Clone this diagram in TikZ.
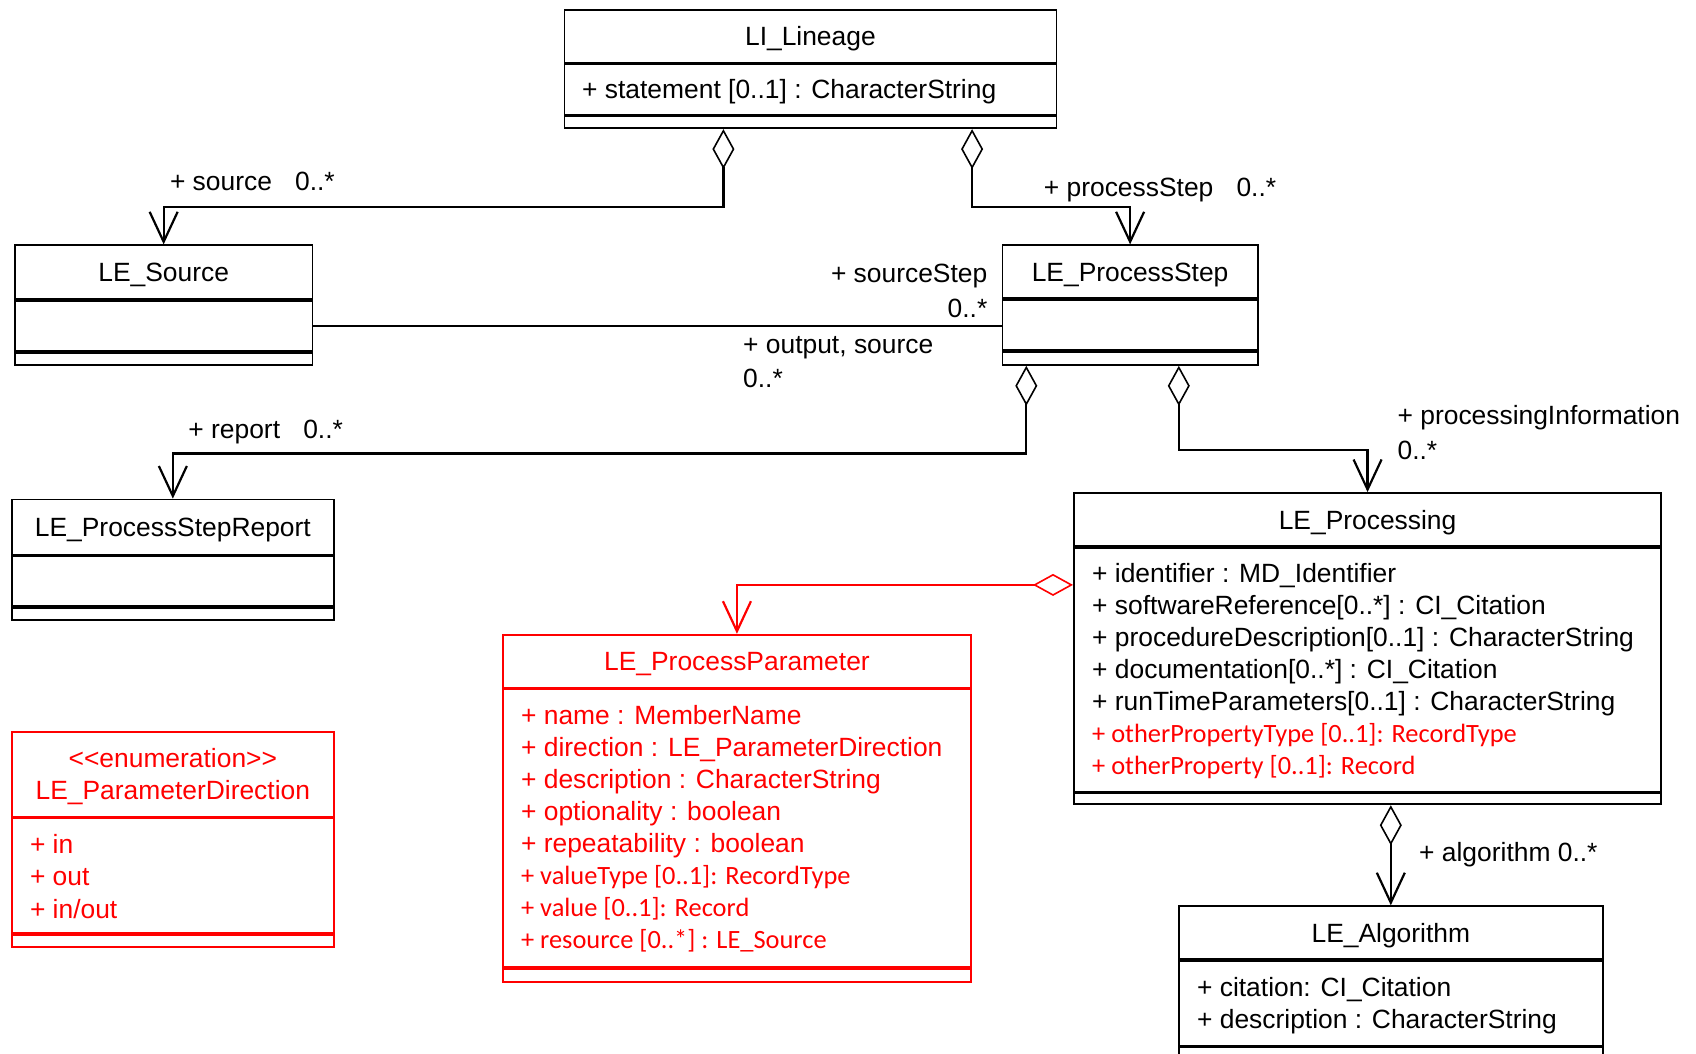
\documentclass[tikz,border=0pt]{standalone}
\usepackage{fontspec}
\setmainfont{Liberation Sans}
\newfontfamily\calfont{Carlito}
\usetikzlibrary{arrows.meta,calc,positioning}
\definecolor{umlred}{RGB}{255,0,0}

\tikzset{
  every node/.style={font=\fontsize{26.4}{31}\selectfont},
  classhead/.style={draw, line width=1.8pt, inner sep=0pt, anchor=north west,
    minimum height=53pt, text height=19pt, text depth=0pt},
  classpart/.style={draw, line width=1.8pt, inner sep=0pt, below=0pt of #1},
  attr/.style={inner sep=0pt, anchor=base west},
  lab/.style={inner sep=0pt, anchor=base west},
  assoc/.style={line width=2.2pt},
  agg/.style={assoc, {Diamond[open,length=40pt,width=22pt,line width=1.6pt]}-{Straight Barb[length=30pt,width=28pt]}},
}

\begin{document}
\begin{tikzpicture}[x=1pt,y=-1pt]
  \fill[white] (0,0) rectangle (1696,1053);
  \useasboundingbox (0,0) rectangle (1696,1053);

  % LI_Lineage
  \node[classhead, minimum width=492pt] (lin) at (563.5,8.7) {LI\_Lineage};
  \node[classpart=lin, minimum width=492pt, minimum height=50pt] (lin-a) {};
  \node[classpart=lin-a, minimum width=492pt, minimum height=12pt] (lin-o) {};
  \node[attr] (lin-0) at ($(lin-a.north west)+(18.5,35)$) {+ statement [0..1] : CharacterString};

  % LE_Source
  \node[classhead, minimum width=297.5pt, minimum height=54pt] (src) at (14,244.4) {LE\_Source};
  \node[classpart=src, minimum width=297.5pt, minimum height=50pt] (src-a) {};
  \node[classpart=src-a, minimum width=297.5pt, minimum height=12pt] (src-o) {};

  % LE_ProcessStep
  \node[classhead, minimum width=255.2pt] (pstep) at (1001.6,244.4) {LE\_ProcessStep};
  \node[classpart=pstep, minimum width=255.2pt, minimum height=50pt] (pstep-a) {};
  \node[classpart=pstep-a, minimum width=255.2pt, minimum height=13pt] (pstep-o) {};

  % LE_ProcessStepReport
  \node[classhead, minimum width=322.3pt, minimum height=55pt] (rep) at (10.8,498.6) {LE\_ProcessStepReport};
  \node[classpart=rep, minimum width=322.3pt, minimum height=50pt] (rep-a) {};
  \node[classpart=rep-a, minimum width=322.3pt, minimum height=12pt] (rep-o) {};

  % LE_Processing
  \node[classhead, minimum width=587.3pt] (proc) at (1073,492.1) {LE\_Processing};
  \node[classpart=proc, minimum width=587.3pt, minimum height=243.7pt] (proc-a) {};
  \node[classpart=proc-a, minimum width=587.3pt, minimum height=11pt] (proc-o) {};
  \foreach \t [count=\i from 0] in {{+ identifier : MD\_Identifier},
      {+ softwareReference[0..*] : CI\_Citation},
      {+ procedureDescription[0..1] : CharacterString},
      {+ documentation[0..*] : CI\_Citation},
      {+ runTimeParameters[0..1] : CharacterString},
      {\color{umlred}\calfont + otherPropertyType [0..1]: RecordType},
      {\color{umlred}\calfont + otherProperty [0..1]: Record}}
    \node[attr] (proc-\i) at ($(proc-a.north west)+(19,{36+32*\i})$) {\t};

  % LE_ProcessParameter
  \begin{scope}[every node/.append style={draw=umlred, text=umlred}]
    \node[classhead, minimum width=468.3pt] (ppar) at (501.9,633.8) {LE\_ProcessParameter};
    \node[classpart=ppar, minimum width=468.3pt, minimum height=277.3pt] (ppar-a) {};
    \node[classpart=ppar-a, minimum width=468.3pt, minimum height=13pt] (ppar-o) {};
  \end{scope}
  \foreach \t [count=\i from 0] in {{+ name : MemberName},
      {+ direction : LE\_ParameterDirection},
      {+ description : CharacterString},
      {+ optionality : boolean},
      {+ repeatability : boolean},
      {\calfont + valueType [0..1]: RecordType},
      {\calfont + value [0..1]: Record},
      {\calfont + resource [0..*] : LE\_Source}}
    \node[attr, text=umlred] (ppar-\i) at ($(ppar-a.north west)+(19,{36+32*\i})$) {\t};

  % LE_ParameterDirection
  \begin{scope}[every node/.append style={draw=umlred, text=umlred}]
    \node[classhead, minimum width=322.3pt, minimum height=84.3pt] (dir) at (10.8,731.2) {};
    \node[classpart=dir, minimum width=322.3pt, minimum height=115pt] (dir-a) {};
    \node[classpart=dir-a, minimum width=322.3pt, minimum height=12pt] (dir-o) {};
  \end{scope}
  \node[inner sep=0pt, anchor=base, text=umlred] (dir-st) at ($(dir.north)+(0,36)$) {\textless\kern0pt\textless enumeration\textgreater\kern0pt\textgreater};
  \node[inner sep=0pt, anchor=base, text=umlred] (dir-t) at ($(dir.north)+(0,68.4)$) {LE\_ParameterDirection};
  \foreach \t [count=\i from 0] in {{+ in},{+ out},{+ in/out}}
    \node[attr, text=umlred] (dir-\i) at ($(dir-a.north west)+(19,{36+32.4*\i})$) {\t};

  % LE_Algorithm
  \node[classhead, minimum width=424pt] (alg) at (1177.9,905.3) {LE\_Algorithm};
  \node[classpart=alg, minimum width=424pt, minimum height=84.7pt] (alg-a) {};
  \node[classpart=alg-a, minimum width=424pt, minimum height=14pt] (alg-o) {};
  \foreach \t [count=\i from 0] in {{+ citation: CI\_Citation},{+ description : CharacterString}}
    \node[attr] (alg-\i) at ($(alg-a.north west)+(19,{36+32.5*\i})$) {\t};

  % connectors
  \draw[agg] ($(lin-o.south)+(-87,0)$) -- ++(0,78) -| (src.north);
  \draw[agg] ($(lin-o.south)+(161.7,0)$) -- ++(0,78) -| (pstep.north);
  \draw[assoc] (src-a.east) -- (src-a.east -| pstep-a.west);
  \draw[agg] ($(pstep-o.south)+(-103.8,0)$) -- ++(0,87.6) -| (rep.north);
  \draw[agg] ($(pstep-o.south)+(48.7,0)$) -- ++(0,84.4) -| (proc.north);
  \coordinate (pc) at ($(proc-a.north west)+(0,38)$);
  \draw[agg, umlred] (pc) -| (ppar.north);
  \draw[agg] (alg.north |- proc-o.south) -- (alg.north);

  % role names
  \node[lab] (srclab) at (169.8,190.7) {+ source\hspace{.6em} 0..*};
  \node[lab] (pslab) at (1043.7,196) {+ processStep\hspace{.6em} 0..*};
  \node[lab, anchor=base east] (sslab) at (987.5,282.6) {+ sourceStep};
  \node[lab, anchor=base east] (ssmul) at (987.5,317.3) {0..*};
  \node[lab] (oslab) at (743,353) {+ output, source};
  \node[lab] (osmul) at (743,387.6) {0..*};
  \node[lab] (replab) at (188.2,438.4) {+ report\hspace{.6em} 0..*};
  \node[lab] (pilab) at (1397.4,424.3) {+ processingInformation};
  \node[lab] (pimul) at (1397.4,459) {0..*};
  \node[lab] (alglab) at (1419,861.3) {+ algorithm 0..*};
\end{tikzpicture}
\end{document}
